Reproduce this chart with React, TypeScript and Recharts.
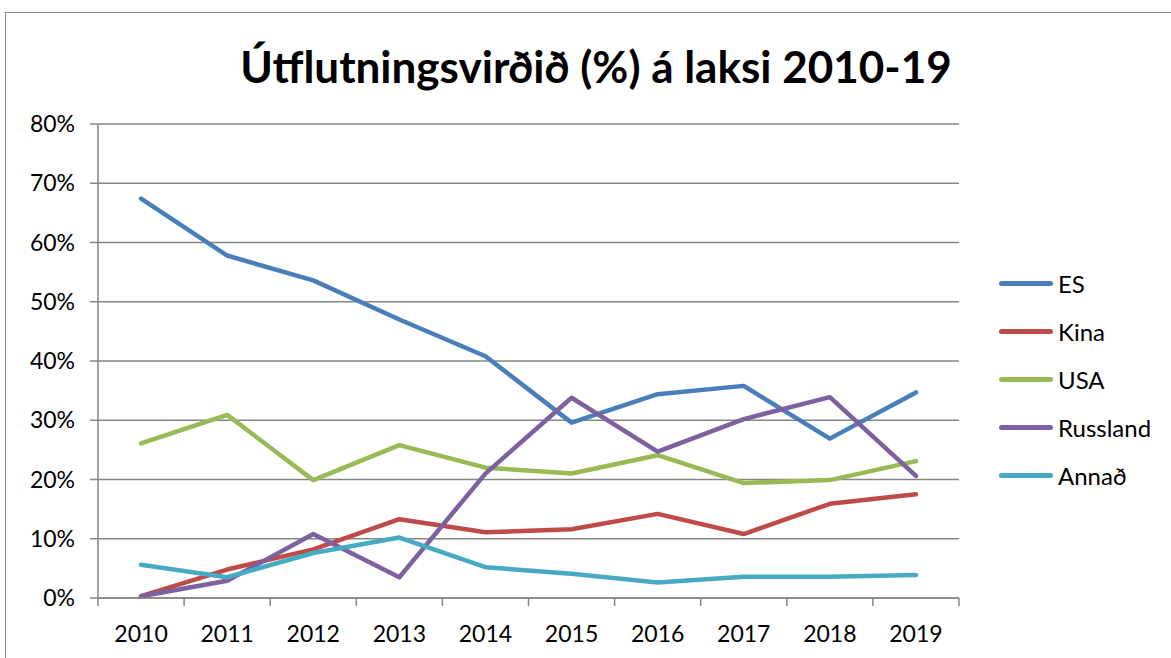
import React from 'react'
import { LineChart, Line, XAxis, YAxis, CartesianGrid } from 'recharts'

const years = ['2010', '2011', '2012', '2013', '2014', '2015', '2016', '2017', '2018', '2019']
const es = [67.4, 57.8, 53.6, 47.0, 40.8, 29.6, 34.4, 35.8, 26.9, 34.7]
const kina = [0.3, 4.8, 8.2, 13.3, 11.1, 11.6, 14.2, 10.8, 15.9, 17.5]
const usa = [26.1, 30.9, 19.9, 25.8, 22.0, 21.0, 24.1, 19.4, 19.9, 23.1]
const russland = [0.3, 2.9, 10.8, 3.5, 21.0, 33.8, 24.7, 30.2, 33.9, 20.6]
const annad = [5.6, 3.5, 7.6, 10.2, 5.2, 4.1, 2.6, 3.6, 3.6, 3.9]
const yTicks = [0, 10, 20, 30, 40, 50, 60, 70, 80]

const series = [
  { key: 'ES', values: es, color: '#4a7ebb' },
  { key: 'Kina', values: kina, color: '#be4b48' },
  { key: 'USA', values: usa, color: '#98b954' },
  { key: 'Russland', values: russland, color: '#7d60a0' },
  { key: 'Annað', values: annad, color: '#46aac5' },
]

const data = years.map((year, i) => {
  const row: Record<string, string | number> = { year }
  series.forEach((s) => {
    row[s.key] = s.values[i]
  })
  return row
})

const FONT = 'Lato, sans-serif'
const GRAY = '#868686'
const HALF_BAND = 43.05

function YearTick(props: any) {
  const { x, y, payload, index } = props
  return (
    <g>
      {index === 0 && <line x1={x - HALF_BAND} x2={x - HALF_BAND} y1={y - 8} y2={y} stroke={GRAY} strokeWidth={1.5} />}
      <line x1={x + HALF_BAND} x2={x + HALF_BAND} y1={y - 8} y2={y} stroke={GRAY} strokeWidth={1.5} />
      <text x={x} y={y + 27} textAnchor="middle" dominantBaseline="central" fontSize={23} fill="#000" fontFamily={FONT}>
        {payload.value}
      </text>
    </g>
  )
}

export default function App() {
  return (
    <div style={{ position: 'absolute', left: 0, top: 0, width: 1171, height: 658, overflow: 'hidden', background: '#fff' }}>
      <div
        style={{
          position: 'absolute',
          left: 5,
          top: 12,
          width: 1250,
          height: 750,
          border: `1.5px solid ${GRAY}`,
        }}
      />
      <div
        style={{
          position: 'absolute',
          left: 0,
          top: 39,
          width: 1192,
          textAlign: 'center',
          fontFamily: FONT,
          fontWeight: 700,
          fontSize: 44,
          lineHeight: '54px',
          color: '#000',
        }}
      >
        Útflutningsvirðið (%) á laksi 2010-19
      </div>
      <div style={{ position: 'absolute', left: 0, top: 0 }}>
        <LineChart width={1171} height={658} data={data} margin={{ top: 124, right: 212, bottom: 0, left: 0 }}>
          <CartesianGrid vertical={false} stroke={GRAY} strokeWidth={1.5} />
          <XAxis
            dataKey="year"
            padding={{ left: HALF_BAND, right: HALF_BAND }}
            axisLine={{ stroke: GRAY, strokeWidth: 1.5 }}
            tickLine={false}
            tick={<YearTick />}
            interval={0}
            height={60}
          />
          <YAxis
            width={98}
            domain={[0, 80]}
            ticks={yTicks}
            tickFormatter={(v) => `${v}%`}
            axisLine={{ stroke: GRAY, strokeWidth: 1.5 }}
            tickLine={{ stroke: GRAY, strokeWidth: 1.5 }}
            tickSize={8}
            tickMargin={15}
            tick={{ fontSize: 23, fill: '#000', fontFamily: FONT }}
          />
          {series.map((s) => (
            <Line
              key={s.key}
              dataKey={s.key}
              stroke={s.color}
              strokeWidth={4.5}
              strokeLinecap="round"
              strokeLinejoin="round"
              dot={false}
              activeDot={false}
              isAnimationActive={false}
            />
          ))}
        </LineChart>
      </div>
      <div style={{ position: 'absolute', left: 999, top: 259, fontFamily: FONT }}>
        {series.map((s) => (
          <div key={s.key} style={{ display: 'flex', alignItems: 'center', height: 48 }}>
            <div style={{ width: 54, height: 5, borderRadius: 3, background: s.color }} />
            <span style={{ fontSize: 24, marginLeft: 5, color: '#000' }}>{s.key}</span>
          </div>
        ))}
      </div>
    </div>
  )
}
